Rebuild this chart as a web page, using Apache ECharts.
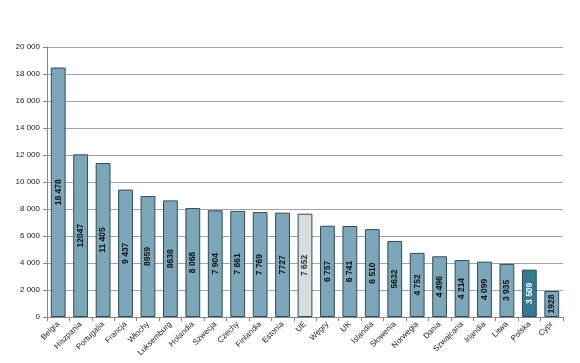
<!DOCTYPE html>
<html><head><meta charset="utf-8">
<script src="https://cdn.jsdelivr.net/npm/echarts@6/dist/echarts.min.js"></script>
<style>html,body{margin:0;padding:0;background:#fff}#c{width:580px;height:363px}</style>
</head><body><div id="c"></div>
<script>
const categories = ["Belgia","Hiszpania","Portugalia","Francja","Włochy","Luksemburg","Holandia","Szwecja","Czechy","Finlandia","Estonia","UE","Węgry","UK","Islandia","Słowenia","Norwegia","Dania","Szwajcaria","Irlandia","Litwa","Polska","Cypr"];
const values = [18478,12047,11405,9437,8959,8638,8068,7904,7861,7769,7727,7652,6757,6741,6510,5632,4752,4496,4214,4099,3935,3509,1928];
const valueLabels = ["18 478","12047","11 405","9 437","8959","8638","8 068","7 904","7 861","7 769","7727","7 652","6 757","6 741","6 510","5632","4 752","4 496","4 214","4 099","3 935","3 509","1928"];
const yTicks = ["0","2 000","4 000","6 000","8 000","10 000","12 000","14 000","16 000","18 000","20 000"];

const normal = '#7BA7B8', ue = '#D8DCDC', pl = '#347A93';
const data = values.map((v,i)=>{
  const c = categories[i];
  const col = c==='UE'?ue:(c==='Polska'?pl:normal);
  return {value:v, itemStyle:{color:col}, label:{color:c==='Polska'?'#fff':(c==='UE'?'#333':'#111')}};
});
const chart = echarts.init(document.getElementById('c'));
chart.setOption({
  animation:false,
  grid:{left:47,top:47,right:17,bottom:46,containLabel:false},
  xAxis:{type:'category',data:categories,
    axisLine:{lineStyle:{color:'#888'}},
    axisTick:{show:true,alignWithLabel:false,length:4,lineStyle:{color:'#888'}},
    axisLabel:{rotate:45,fontSize:8,color:'#222',fontFamily:'Liberation Sans, Arial',margin:6,interval:0}},
  yAxis:{type:'value',min:0,max:20000,interval:2000,
    axisLine:{show:true,lineStyle:{color:'#888'}},
    axisTick:{show:true,length:4,lineStyle:{color:'#888'}},
    splitLine:{lineStyle:{color:'#a4a4a4',width:1}},
    axisLabel:{fontSize:8,color:'#222',fontFamily:'Liberation Sans, Arial',margin:7,
      formatter:(v)=>yTicks[Math.round(v/2000)]}},
  series:[{type:'bar',data:data,barCategoryGap:'34%',
    itemStyle:{borderColor:'#2E4C5A',borderWidth:1},
    label:{show:true,position:'inside',rotate:90,fontSize:8.5,fontWeight:'bold',fontFamily:'Liberation Sans, Arial',
      formatter:(p)=>valueLabels[p.dataIndex]}}]
});
</script></body></html>
